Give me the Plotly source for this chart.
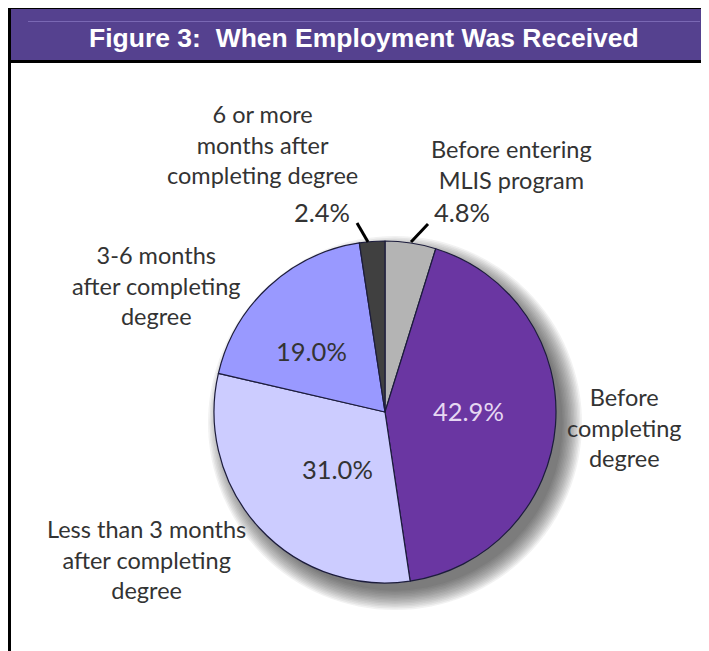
import plotly.graph_objects as go

# page body has an 8px margin: draw in reference pixel coords and shift
OFF = 8
W, H = 709 - OFF, 651 - OFF

# ---- data ----
categories = ["Before entering MLIS program", "Before completing degree",
              "Less than 3 months after completing degree",
              "3-6 months after completing degree",
              "6 or more months after completing degree"]
values = [4.8, 42.9, 31.0, 19.0, 2.4]
label_texts = ["Before entering<br>MLIS program", "Before<br>completing<br>degree",
               "Less than 3 months<br>after completing<br>degree",
               "3-6 months<br>after completing<br>degree",
               "6 or more<br>months after<br>completing degree"]
colors = ["#B4B4B4", "#6A36A2", "#CCCCFF", "#9999FF", "#404040"]
title_text = "Figure 3:\u00a0 When Employment Was Received"

def px(x):
    return (x - OFF) / W

def py(y):
    return 1 - (y - OFF) / H

cx, cy, r = 385, 412, 171

fig = go.Figure()
fig.add_trace(go.Pie(
    labels=categories, values=values, sort=False, direction="clockwise",
    rotation=0, marker=dict(colors=colors, line=dict(color="#1C1C3C", width=1.2)),
    textinfo="none", hoverinfo="label+percent", showlegend=False,
    domain=dict(x=[px(cx - r), px(cx + r)], y=[py(cy + r), py(cy - r)]),
))

shapes = []
# drop shadow (stacked translucent circles)
for i in range(14):
    rr = r + 16 - i * 1.5
    ox, oy = cx + 10, cy + 11
    shapes.append(dict(type="circle", xref="paper", yref="paper", layer="below",
                       x0=px(ox - rr), x1=px(ox + rr), y0=py(oy + rr), y1=py(oy - rr),
                       fillcolor="rgba(40,40,40,0.06)", line=dict(width=0)))
# frame and header
shapes += [
    dict(type="rect", xref="paper", yref="paper", x0=px(10), x1=px(720), y0=py(61), y1=py(8),
         fillcolor="#55418F", line=dict(width=0), layer="above"),
    dict(type="line", xref="paper", yref="paper", x0=px(28), x1=px(700), y0=py(21.5), y1=py(21.5),
         line=dict(color="#7A68B4", width=1), layer="above"),
    dict(type="line", xref="paper", yref="paper", x0=px(8), x1=px(720), y0=py(7.5), y1=py(7.5),
         line=dict(color="black", width=3), layer="above"),
    dict(type="line", xref="paper", yref="paper", x0=px(9.5), x1=px(9.5), y0=py(6), y1=py(H + OFF + 5),
         line=dict(color="black", width=3), layer="above"),
    dict(type="line", xref="paper", yref="paper", x0=px(10), x1=px(720), y0=py(61.5), y1=py(61.5),
         line=dict(color="black", width=3), layer="above"),
    # leader lines
    dict(type="line", xref="paper", yref="paper", x0=px(357), x1=px(368), y0=py(223), y1=py(242),
         line=dict(color="black", width=3), layer="above"),
    dict(type="line", xref="paper", yref="paper", x0=px(428), x1=px(411), y0=py(224), y1=py(242),
         line=dict(color="black", width=3), layer="above"),
]

font_lab = dict(family="Lato", size=23.5, color="#333333")
font_pct = dict(family="Lato", size=25.5, color="#333333")

pct = [f"{v:.1f}%" for v in values]
ann = [
    dict(text=f"<b>{title_text}</b>", x=px(364), y=py(38),
         font=dict(family="Liberation Sans", size=26.5, color="white")),
    # outside labels
    dict(text=label_texts[0], x=px(511), y=py(164), font=font_lab),
    dict(text=label_texts[1], x=px(624), y=py(427), font=font_lab),
    dict(text=label_texts[2], x=px(146), y=py(559), font=font_lab),
    dict(text=label_texts[3], x=px(156), y=py(285), font=font_lab),
    dict(text=label_texts[4], x=px(262), y=py(144), font=font_lab),
    # percentages
    dict(text=pct[0], x=px(432), y=py(212), xanchor="left", font=font_pct),
    dict(text=pct[1], x=px(468), y=py(411), font=dict(family="Lato", size=25.5, color="#E6D8F2")),
    dict(text=pct[2], x=px(337), y=py(469), font=font_pct),
    dict(text=pct[3], x=px(311), y=py(351), font=font_pct),
    dict(text=pct[4], x=px(322), y=py(212), font=font_pct),
]
for a in ann:
    a.update(xref="paper", yref="paper", showarrow=False)
    a.setdefault("xanchor", "center")
    a.setdefault("yanchor", "middle")

fig.update_layout(width=W, height=H, margin=dict(l=0, r=0, t=0, b=0),
                  paper_bgcolor="white", plot_bgcolor="white",
                  shapes=shapes, annotations=ann)
fig.write_html("out.html")
